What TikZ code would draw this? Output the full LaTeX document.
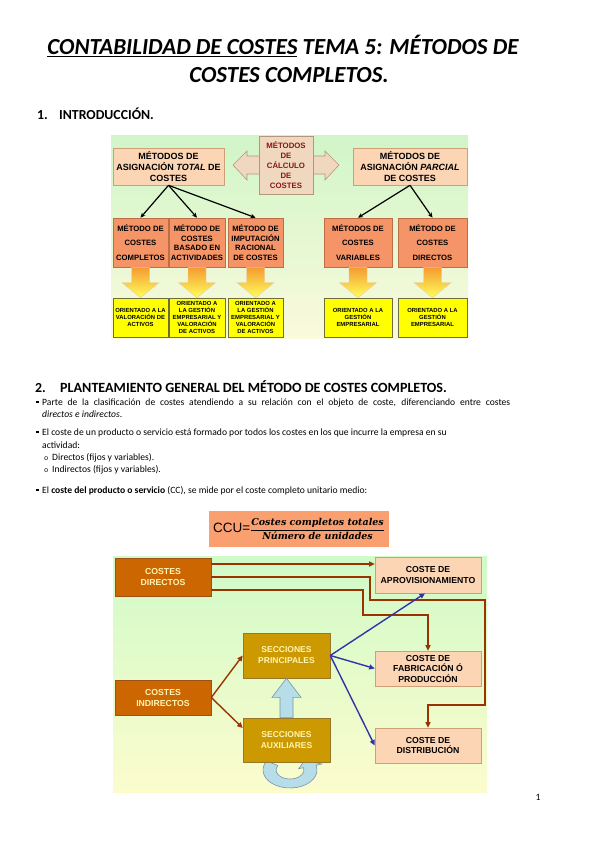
\documentclass[tikz,border=0pt]{standalone}
\usepackage{fontspec}
\setmainfont{Carlito}
\newfontfamily\boxfont{Liberation Sans}
\newfontfamily\fracfont{DejaVu Serif}
\newfontfamily\bulletfont{Liberation Mono}
\usetikzlibrary{arrows.meta,calc}

\definecolor{peach}{RGB}{252,213,180}
\definecolor{peachline}{RGB}{205,160,120}
\definecolor{coral}{RGB}{245,148,102}
\definecolor{coralline}{RGB}{190,110,70}
\definecolor{orientyellow}{RGB}{255,255,0}
\definecolor{orientline}{RGB}{110,110,60}
\definecolor{ctrbeige}{RGB}{240,216,192}
\definecolor{ctrline}{RGB}{180,150,120}
\definecolor{ctrtext}{RGB}{140,20,20}
\definecolor{topgreen}{RGB}{208,245,200}
\definecolor{topyellow}{RGB}{250,250,220}
\definecolor{arrorange}{RGB}{245,155,50}
\definecolor{arryellow}{RGB}{255,255,90}
\definecolor{ccufill}{RGB}{250,160,112}
\definecolor{costorange}{RGB}{204,102,0}
\definecolor{costline}{RGB}{160,80,20}
\definecolor{secgold}{RGB}{204,153,0}
\definecolor{secline}{RGB}{150,120,40}
\definecolor{paletext}{RGB}{255,245,180}
\definecolor{arrowred}{RGB}{153,51,0}
\definecolor{arrowblue}{RGB}{51,51,170}
\definecolor{liftblue}{RGB}{183,221,232}
\definecolor{liftline}{RGB}{120,150,165}
\definecolor{lowgreen}{RGB}{208,250,200}
\definecolor{lowyellow}{RGB}{252,252,205}

\newcommand{\sqbul}{\makebox[6pt][l]{\raisebox{1.6pt}{\rule{2.4pt}{2.4pt}}}}
\newcommand{\circbul}{\makebox[8pt][l]{\bulletfont\fontsize{7}{8}\selectfont o}}
\newcommand{\fractext}[1]{\hbox{\fracfont\bfseries\itshape\fontsize{9.5}{10}\selectfont #1}}

\begin{document}
\begin{tikzpicture}[
    x=1pt, y=-1pt,
    title/.style={anchor=base, inner sep=0pt, font=\bfseries\itshape\fontsize{23}{28}\selectfont},
    head/.style={anchor=base west, inner sep=0pt, font=\bfseries\fontsize{13.8}{16}\selectfont},
    body/.style={anchor=base west, inner sep=0pt, font=\fontsize{9.6}{11}\selectfont},
    box/.style={draw, line width=0.6pt, align=center, inner sep=0pt},
    topbox/.style={box, fill=peach, draw=peachline, minimum height=37pt,
        font=\boxfont\bfseries\fontsize{9}{11}\selectfont},
    metbox/.style={box, fill=coral, draw=coralline, minimum height=49pt,
        font=\boxfont\bfseries\fontsize{7.7}{9.7}\selectfont},
    orientbox/.style={box, fill=orientyellow, draw=orientline, minimum height=39pt,
        font=\boxfont\bfseries\fontsize{5.9}{7.2}\selectfont},
    ctrbox/.style={box, fill=ctrbeige, draw=ctrline, text=ctrtext, minimum width=54pt,
        minimum height=58pt, font=\boxfont\bfseries\fontsize{7.8}{10}\selectfont},
    tree/.style={draw=black, line width=1.2pt, -{Stealth[length=5pt,width=4.5pt]}},
    yarrow/.style={top color=arrorange, bottom color=arryellow, draw=arrorange!80!black!40, line width=0.4pt},
    costbox/.style={box, fill=costorange, draw=costline, text=paletext, minimum width=96pt,
        font=\boxfont\bfseries\fontsize{8.7}{11}\selectfont},
    secbox/.style={box, fill=secgold, draw=secline, text=paletext, minimum width=87pt,
        font=\boxfont\bfseries\fontsize{8.5}{11}\selectfont},
    destbox/.style={box, fill=peach, draw=peachline, minimum width=106pt,
        font=\boxfont\bfseries\fontsize{8.7}{10.5}\selectfont},
    redarr/.style={draw=arrowred, line width=1.4pt, -{Triangle[length=5.5pt,width=5pt]}},
    bluearr/.style={draw=arrowblue, line width=1.4pt, -{Triangle[length=5.5pt,width=5pt]}},
    lift/.style={fill=liftblue, draw=liftline, line width=0.6pt}
    ]
    \useasboundingbox (0,0) rectangle (599,848);

    % title and text
    \node[title] (t1) at (283,55) {\underline{CONTABILIDAD DE COSTES} TEMA 5: MÉTODOS DE};
    \node[title] (t2) at (289,83) {COSTES COMPLETOS.};
    \node[head] (h1n) at (37,120) {1.};
    \node[head] (h1) at (59,120) {INTRODUCCIÓN.};

    % first diagram
    \fill[top color=topgreen, bottom color=topyellow] (111,135) rectangle (468,338);
    \draw[fill=ctrbeige, draw=ctrline, line width=0.6pt] (233,165) -- (247,151) -- (247,156)
        -- (325,156) -- (325,151) -- (339,165) -- (325,180) -- (325,174) -- (247,174)
        -- (247,180) -- cycle;
    \node[ctrbox] (calc) at (286,165) {MÉTODOS\\DE\\CÁLCULO\\DE\\COSTES};
    \node[topbox, minimum width=111pt] (total) at (168.5,166.5)
        {MÉTODOS DE\\ASIGNACIÓN \textit{TOTAL} DE\\COSTES};
    \node[topbox, minimum width=114pt] (parcial) at (410,166.5)
        {MÉTODOS DE\\ASIGNACIÓN \textit{PARCIAL}\\DE COSTES};

    \node[metbox, minimum width=55pt] (mcompletos) at (140.5,242.5) {MÉTODO DE\\[5pt]COSTES\\[5pt]COMPLETOS};
    \node[metbox, minimum width=56pt] (mabc) at (197,242.5) {MÉTODO DE\\COSTES\\BASADO EN\\ACTIVIDADES};
    \node[metbox, minimum width=55pt] (mracional) at (255.5,242.5) {MÉTODO DE\\IMPUTACIÓN\\RACIONAL\\DE COSTES};
    \node[metbox, minimum width=68pt] (mvariables) at (358,242.5) {MÉTODOS DE\\[5pt]COSTES\\[5pt]VARIABLES};
    \node[metbox, minimum width=69pt] (mdirectos) at (432.5,242.5) {MÉTODO DE\\[5pt]COSTES\\[5pt]DIRECTOS};

    \node[orientbox, minimum width=55pt] (ocompletos) at (140.5,317.5) {ORIENTADO A LA\\VALORACIÓN DE\\ACTIVOS};
    \node[orientbox, minimum width=56pt] (oabc) at (197,317.5) {ORIENTADO A\\LA GESTIÓN\\EMPRESARIAL Y\\VALORACIÓN\\DE ACTIVOS};
    \node[orientbox, minimum width=55pt] (oracional) at (255.5,317.5) {ORIENTADO A\\LA GESTIÓN\\EMPRESARIAL Y\\VALORACIÓN\\DE ACTIVOS};
    \node[orientbox, minimum width=68pt] (ovariables) at (358,317.5) {ORIENTADO A LA\\GESTIÓN\\EMPRESARIAL};
    \node[orientbox, minimum width=69pt] (odirectos) at (432.5,317.5) {ORIENTADO A LA\\GESTIÓN\\EMPRESARIAL};

    \foreach \m in {completos,abc,racional,variables,directos}
        \path[yarrow] let \p1=(m\m.south), \p2=(o\m.north) in
            (\x1-9pt,\y1) -- (\x1+9pt,\y1) -- (\x1+9pt,\y2+15pt) -- (\x1+18.5pt,\y2+15pt)
            -- (\x1,\y2) -- (\x1-18.5pt,\y2+15pt) -- (\x1-9pt,\y2+15pt) -- cycle;

    \draw[tree] (total.south) -- (mcompletos.north);
    \draw[tree] (total.south) -- (mabc.north);
    \draw[tree] (total.south) -- (mracional.north);
    \draw[tree] (parcial.south) -- (mvariables.north);
    \draw[tree] (parcial.south) -- (mdirectos.north);

    % section 2
    \node[head] (h2n) at (35,392) {2.};
    \node[head, font=\bfseries\fontsize{14.1}{16}\selectfont] (h2) at (60,392) {PLANTEAMIENTO GENERAL DEL MÉTODO DE COSTES COMPLETOS.};
    \node[body] (b1) at (36,405) {\sqbul\makebox[468pt][s]{Parte de la clasificación de costes atendiendo a su relación con el objeto de coste, diferenciando entre costes}};
    \node[body] (b1b) at (42,417) {\textit{directos e indirectos}.};
    \node[body] (b2) at (36,435) {\sqbul El coste de un producto o servicio está formado por todos los costes en los que incurre la empresa en su};
    \node[body] (b2b) at (42,448) {actividad:};
    \node[body] (s1) at (44,460) {\circbul Directos (fijos y variables).};
    \node[body] (s2) at (44,472) {\circbul Indirectos (fijos y variables).};
    \node[body] (b3) at (36,493) {\sqbul El \textbf{coste del producto o servicio} (CC), se mide por el coste completo unitario medio:};

    \node[box, draw=none, fill=ccufill, minimum width=180pt, minimum height=36pt] (ccu) at (299,529)
        {{\boxfont\fontsize{13.5}{15}\selectfont CCU=}$\displaystyle\frac{\fractext{Costes completos totales}}{\fractext{Número de unidades}}$};

    % second diagram
    \fill[top color=lowgreen, bottom color=lowyellow] (113,556) rectangle (487,792);
    \draw[lift] (290,770) ++(210:27 and 18) arc[start angle=210, end angle=-15, x radius=27, y radius=18]
        -- (321.9,764) -- (304.5,760.5) -- (298.7,768.7) -- ($(290,770)+(-15:14 and 9)$)
        arc[start angle=-15, end angle=210, x radius=14, y radius=9] -- cycle;

    \node[costbox, minimum height=38pt] (dir) at (163,577) {COSTES\\DIRECTOS};
    \node[costbox, minimum height=35pt] (ind) at (163,697.5) {COSTES\\INDIRECTOS};
    \node[secbox, minimum height=45pt] (sp) at (286.5,655.5) {SECCIONES\\PRINCIPALES};
    \node[secbox, minimum height=44pt] (sa) at (286.5,740) {SECCIONES\\AUXILIARES};
    \node[destbox, minimum height=36pt] (aprov) at (428,575) {COSTE DE\\APROVISIONAMIENTO};
    \node[destbox, minimum height=35pt] (fab) at (428,668.5) {COSTE DE\\FABRICACIÓN Ó\\PRODUCCIÓN};
    \node[destbox, minimum height=35pt] (dist) at (428,745.5) {COSTE DE\\DISTRIBUCIÓN};

    \path[lift] let \p1=(sa.north), \p2=(sp.south) in
        (\x1-6.5pt,\y1) -- (\x1+6.5pt,\y1) -- (\x1+6.5pt,\y2-19pt) -- (\x1+14.5pt,\y2-19pt)
        -- (\x1,\y2) -- (\x1-14.5pt,\y2-19pt) -- (\x1-6.5pt,\y2-19pt) -- cycle;

    \coordinate (d1) at ($(dir.east)+(0,-13)$);
    \coordinate (d3) at ($(dir.east)+(0,13)$);
    \coordinate (w1) at (370,600);
    \coordinate (w2) at (485,705);
    \coordinate (w3) at (363,615);
    \draw[redarr] (d1) -- (d1 -| aprov.west);
    \draw[redarr] (dir.east) -| (w1) -| (w2) -| (dist.north);
    \draw[redarr] (d3) -| (w3) -| (fab.north);
    \draw[redarr] (ind.east) -- (sp.west);
    \draw[redarr] (ind.east) -- ($(sa.west)+(0,-12)$);

    \draw[bluearr] (sp.east) -- ($(aprov.south)+(-3,0)$);
    \draw[bluearr] (sp.east) -- (fab.west);
    \draw[bluearr] (sp.east) -- (dist.west);

    \node[body] (page) at (535.5,800) {1};
\end{tikzpicture}
\end{document}
